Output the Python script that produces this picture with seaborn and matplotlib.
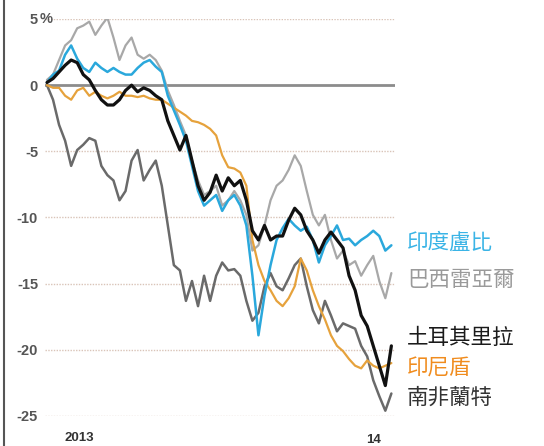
import pandas as pd
import numpy as np
import matplotlib
matplotlib.use("Agg")
import matplotlib.pyplot as plt
import matplotlib.dates as mdates
from matplotlib.lines import Line2D
import seaborn as sns

# weekly % change against the US dollar, Jan 2013 - early Feb 2014
dates = pd.date_range("2013-01-01", periods=58, freq="7D")

india = [0.2, 0.8, 1.1, 2.3, 3.0, 2.0, 1.3, 1.0, 1.7, 1.3,
         1.0, 1.3, 1.0, 0.8, 0.8, 1.3, 1.7, 1.9, 1.4, 1.0,
         -0.8, -1.9, -3.0, -4.2, -6.1, -8.0, -9.1, -8.7, -8.3, -9.5,
         -8.7, -8.3, -9.1, -10.6, -14.4, -18.9, -15.9, -13.6, -11.7, -10.8,
         -10.1, -10.6, -11.0, -10.7, -11.7, -13.4, -12.1, -11.4, -10.6, -11.7,
         -11.6, -12.1, -11.7, -11.4, -11.0, -11.4, -12.5, -12.1]

brazil = [0.4, 0.8, 1.9, 3.0, 3.4, 4.3, 4.5, 4.8, 3.8, 4.5,
          5.1, 3.6, 1.9, 3.0, 3.6, 2.3, 2.0, 2.3, 1.9, 1.1,
          -0.4, -1.5, -2.7, -3.8, -5.7, -7.2, -8.3, -8.0, -7.6, -9.1,
          -8.7, -8.0, -8.7, -9.8, -12.5, -12.1, -10.6, -8.7, -7.6, -7.2,
          -6.4, -5.3, -6.1, -8.0, -9.8, -10.6, -9.8, -11.7, -13.1, -12.5,
          -13.6, -13.3, -14.4, -13.6, -12.9, -14.8, -16.1, -14.2]

turkey = [0.2, 0.5, 1.0, 1.5, 1.9, 1.7, 0.8, 0.4, -0.4, -1.1,
          -1.5, -1.5, -1.1, -0.4, 0.0, -0.5, -0.2, -0.4, -0.8, -1.1,
          -2.7, -3.8, -4.9, -3.8, -5.7, -7.6, -8.7, -8.1, -6.8, -8.0,
          -7.0, -7.6, -7.2, -8.7, -11.0, -11.7, -10.6, -11.7, -11.4, -11.4,
          -10.2, -9.3, -9.8, -11.0, -11.7, -12.7, -11.7, -11.1, -11.7, -12.3,
          -14.4, -15.5, -17.4, -18.2, -19.7, -21.2, -22.7, -19.7]

indonesia = [0.0, -0.2, -0.2, -0.8, -1.1, -0.4, -0.2, -0.8, -0.5, -0.8,
             -1.0, -0.8, -0.5, -0.8, -0.8, -0.9, -0.8, -1.0, -1.1, -1.1,
             -1.4, -1.7, -2.0, -2.3, -2.7, -2.8, -3.0, -3.3, -3.8, -5.3,
             -6.2, -6.3, -6.6, -7.6, -11.7, -13.6, -14.8, -15.5, -16.3, -16.7,
             -16.1, -15.2, -13.1, -14.0, -15.5, -16.7, -17.7, -18.9, -19.7, -20.1,
             -20.7, -21.2, -21.4, -20.8, -21.2, -21.4, -21.2, -21.0]

south_africa = [0.0, -1.1, -3.0, -4.2, -6.1, -4.9, -4.5, -4.0, -4.2, -6.1,
                -6.8, -7.2, -8.7, -8.0, -5.7, -4.9, -7.2, -6.4, -5.7, -7.6,
                -10.6, -13.6, -14.0, -16.3, -14.8, -16.7, -14.4, -16.3, -14.4, -13.4,
                -14.0, -13.9, -14.4, -16.3, -17.8, -17.2, -15.2, -14.2, -15.2, -15.5,
                -14.6, -13.6, -13.1, -15.2, -17.0, -18.0, -16.3, -17.4, -18.6, -18.0,
                -18.2, -18.4, -19.7, -20.5, -22.3, -23.5, -24.6, -23.3]

labels = ["印度盧比", "巴西雷亞爾", "土耳其里拉", "印尼盾", "南非蘭特"]
label_colors = ["#3ab4e6", "#9a9a9a", "#1a1a1a", "#f08c1e", "#333333"]
label_y = [-11.9, -14.7, -19.1, -21.4, -23.6]

yticks = [-25, -20, -15, -10, -5, 0, 5]
ytick_labels = ["-25", "-20", "-15", "-10", "-5", "0", "5"]

sns.set_style("white")
plt.rcParams["font.family"] = ["Liberation Sans", "DejaVu Sans"]

fig = plt.figure(figsize=(5.44, 4.46), dpi=100)
W, H = 544, 446
ax = fig.add_axes([45 / W, (H - 416) / H, 350 / W, 397 / H])

series = [
    (brazil, "#a8a8a8", 1.6, 2),
    (south_africa, "#6a6a6a", 1.8, 3),
    (indonesia, "#e6a23c", 1.6, 4),
    (india, "#2aa8dc", 1.8, 5),
    (turkey, "#111111", 2.3, 6),
]
for vals, col, lw, z in series:
    sns.lineplot(x=dates, y=vals, ax=ax, color=col, linewidth=lw, zorder=z)

d0 = pd.Timestamp("2013-01-01")
ax.set_xlim(d0 - pd.Timedelta(days=2.3), d0 + pd.Timedelta(days=403.2))
ax.set_ylim(-25, 5)

# gridlines
for v in yticks:
    if v == 0:
        ax.axhline(v, color="#8c8c8c", lw=2, zorder=1)
    else:
        ax.axhline(v, color="#d9c4b8", lw=1, ls=(0, (1, 1)), zorder=1)

for s in ax.spines.values():
    s.set_visible(False)

ax.set_yticks(yticks)
ax.set_yticklabels(ytick_labels, fontsize=10.5, fontweight="bold", color="#555555")
ax.tick_params(axis="y", length=0, pad=5)
ax.text(-5 / 350, 5, "%", transform=ax.get_yaxis_transform(), fontsize=10.5,
        fontweight="bold", color="#555555", ha="left", va="center")

ax.xaxis.set_major_locator(mdates.YearLocator())
ax.xaxis.set_minor_locator(mdates.MonthLocator())
ax.xaxis.set_major_formatter(plt.NullFormatter())
ax.tick_params(axis="x", which="major", length=15, width=2, color="#333333", direction="out")
ax.tick_params(axis="x", which="minor", length=2, width=2, color="#333333", direction="out")

tr = ax.get_xaxis_transform()
ax.text(d0 + pd.Timedelta(days=20), -0.04, "2013", transform=tr, fontsize=9.5,
        fontweight="bold", color="#333333", ha="left", va="top")
ax.text(pd.Timestamp("2014-01-06"), -0.045, "14", transform=tr, fontsize=9.5,
        fontweight="bold", color="#333333", ha="left", va="top")

for lab, col, yv in zip(labels, label_colors, label_y):
    ax.text(1 + 12 / 350, yv, lab, transform=ax.get_yaxis_transform(), color=col,
            fontsize=15.5, family=["Noto Sans CJK TC", "DejaVu Sans"],
            ha="left", va="center", clip_on=False)

ax.set_xlabel("")
ax.set_ylabel("")

fig.add_artist(Line2D([4 / W, 4 / W], [0, 1], color="#555555", lw=1.5))

fig.savefig("out.png", dpi=100)
